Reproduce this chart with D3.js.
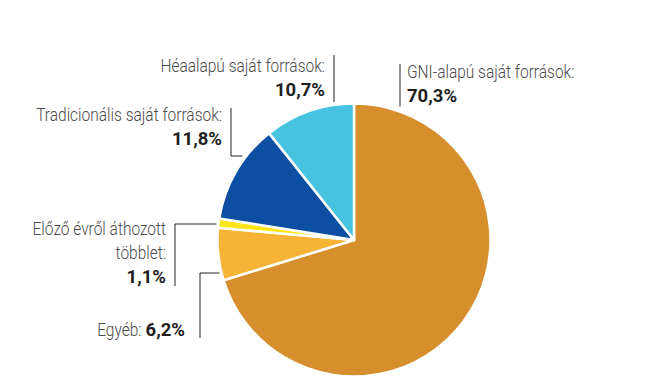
<!DOCTYPE html>
<html>
<head>
<meta charset="utf-8">
<script src="https://cdn.jsdelivr.net/npm/d3@7"></script>
<style>
  body { margin: 0; background: #fff; }
  svg text { font-family: Roboto, 'Liberation Sans', sans-serif; }
</style>
</head>
<body>
<svg id="chart" width="668" height="385"></svg>
<script>
// ── Data ─────────────────────────────────────────────────────────────
const names  = ['GNI-alapú saját források', 'Egyéb', 'Előző évről áthozott többlet',
                'Tradicionális saját források', 'Héaalapú saját források'];
const values = [70.3, 6.2, 1.1, 11.8, 10.7];
const shares = ['70,3%', '6,2%', '1,1%', '11,8%', '10,7%'];
const colors = ['#d68f2c', '#f6b335', '#ffe61a', '#0c4ea2', '#47c2e0'];

// ── Layout ───────────────────────────────────────────────────────────
const cx = 354, cy = 240, R = 136.5;
const SX = 0.815;   // condensed look: squeeze label text horizontally
const LH = 24;      // line height

const svg = d3.select('#chart');
const g = svg.append('g').attr('transform', `translate(${cx},${cy})`);

const pie = d3.pie().sort(null).value(d => d);
const arc = d3.arc().innerRadius(0).outerRadius(R);

g.selectAll('path.slice')
  .data(pie(values))
  .join('path')
    .attr('class', 'slice')
    .attr('d', arc)
    .attr('fill', (d, i) => colors[i])
    .attr('stroke', '#fff')
    .attr('stroke-width', 2.5)
    .attr('stroke-linejoin', 'round');

// edge of the pie for a vertical (x) or horizontal (y) leader
const edgeY = x => cy - Math.sqrt(R * R - (x - cx) * (x - cx));
const edgeX = y => cx - Math.sqrt(R * R - (y - cy) * (y - cy));

// label blocks: lines of text, anchor, leader shape
const labels = [
  { i: 0, lines: ['GNI-alapú saját források:'], x: 407, y: 78, anchor: 'start',
    leader: () => [[400, 64], [400, edgeY(400) - 5]] },
  { i: 4, lines: ['Héaalapú saját források:'], x: 325, y: 72, anchor: 'end',
    leader: () => [[334, 55], [334, edgeY(334) - 3]] },
  { i: 3, lines: ['Tradicionális saját források:'], x: 222, y: 121, anchor: 'end',
    leader: () => [[231, 108], [231, 156], [edgeX(156) - 4, 156]] },
  { i: 2, lines: ['Előző évről áthozott', 'többlet:'], x: 166, y: 235, anchor: 'end',
    leader: () => [[175, 286], [175, 224], [edgeX(224) - 2, 224]] },
];

const line = d3.line();

function lightText(x, y, anchor, s) {
  return svg.append('g')
    .attr('transform', `translate(${x},${y}) scale(${SX},1)`)
    .append('text')
      .attr('text-anchor', anchor)
      .attr('font-size', 19)
      .attr('font-weight', 300)
      .attr('fill', '#4a4a4a')
      .text(s);
}

function valueText(x, y, anchor, s) {
  return svg.append('text')
    .attr('x', x).attr('y', y)
    .attr('text-anchor', anchor)
    .attr('font-size', 18.5)
    .attr('font-weight', 'bold')
    .attr('fill', '#1e1e1e')
    .text(s);
}

labels.forEach(l => {
  l.lines.forEach((s, k) => lightText(l.x, l.y + k * LH, l.anchor, s));
  valueText(l.x, l.y + l.lines.length * LH, l.anchor, shares[l.i]);

  svg.append('path')
    .attr('d', line(l.leader()))
    .attr('fill', 'none').attr('stroke', '#222').attr('stroke-width', 1);
});

// Egyéb: single line, label and value inline
const egVal = valueText(185, 336, 'end', shares[1]);
const egW = egVal.node().getComputedTextLength();
lightText(185 - egW - 4, 336, 'end', names[1] + ':');

svg.append('path')
  .attr('d', line([[200, 338], [200, 273], [edgeX(273) - 2, 273]]))
  .attr('fill', 'none').attr('stroke', '#222').attr('stroke-width', 1);
</script>
</body>
</html>
